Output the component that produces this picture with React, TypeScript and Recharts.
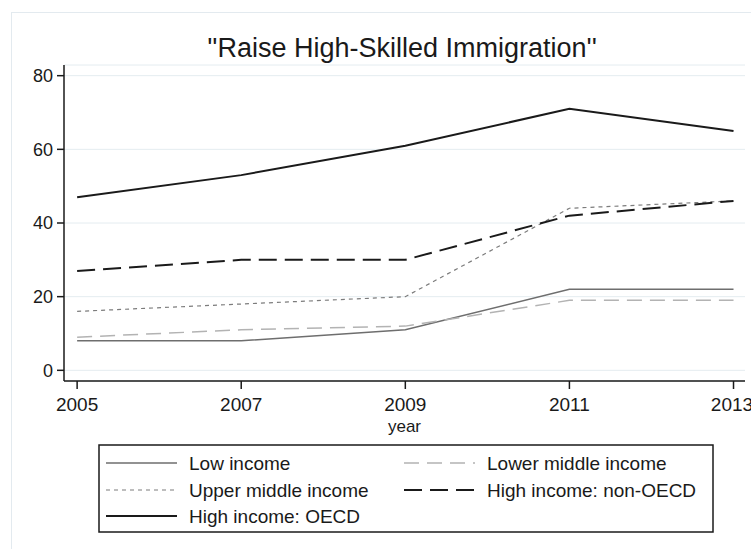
import { CartesianGrid, Line, LineChart, XAxis, YAxis } from "recharts";

const years = [2005, 2007, 2009, 2011, 2013];
const lowIncome = [8, 8, 11, 22, 22];
const lowerMiddle = [9, 11, 12, 19, 19];
const upperMiddle = [16, 18, 20, 44, 46];
const highNonOecd = [27, 30, 30, 42, 46];
const highOecd = [47, 53, 61, 71, 65];
const yTicks = [0, 20, 40, 60, 80];

const FONT = "'Liberation Sans', Arial, Helvetica, sans-serif";

const SERIES = [
  { key: "low", name: "Low income", values: lowIncome, color: "#6e6e6e", width: 1.5, dash: undefined },
  { key: "lowerMid", name: "Lower middle income", values: lowerMiddle, color: "#b3b3b3", width: 1.5, dash: "15 8" },
  { key: "upperMid", name: "Upper middle income", values: upperMiddle, color: "#7c7c7c", width: 1.2, dash: "4 4" },
  { key: "nonOecd", name: "High income: non-OECD", values: highNonOecd, color: "#1a1a1a", width: 2, dash: "18 8" },
  { key: "oecd", name: "High income: OECD", values: highOecd, color: "#1a1a1a", width: 2, dash: undefined },
];

const data = years.map((year, i) => {
  const row: Record<string, number> = { year };
  SERIES.forEach((s) => (row[s.key] = s.values[i]));
  return row;
});

function LegendBox() {
  const rowY = [19, 46, 72];
  const colX = [8, 306];
  return (
    <svg
      width={616}
      height={89}
      style={{ position: "absolute", left: 98, top: 444, overflow: "visible" }}
    >
      <rect x={1} y={1} width={614} height={87} fill="#fff" stroke="#1a1a1a" strokeWidth={1.5} />
      {SERIES.map((s, i) => {
        const x = colX[i % 2];
        const y = rowY[Math.floor(i / 2)];
        return (
          <g key={s.key}>
            <line
              x1={x}
              x2={x + 71}
              y1={y}
              y2={y}
              stroke={s.color}
              strokeWidth={s.width}
              strokeDasharray={s.dash}
            />
            <text x={x + 83} y={y + 7} fontFamily={FONT} fontSize={19} fill="#1a1a1a">
              {s.name}
            </text>
          </g>
        );
      })}
    </svg>
  );
}

export default function App() {
  return (
    <div
      style={{
        position: "absolute",
        left: 0,
        top: 0,
        width: 751,
        height: 549,
        overflow: "hidden",
        background: "#fff",
        fontFamily: FONT,
      }}
    >
      <div
        style={{
          position: "absolute",
          left: 11,
          top: 12,
          width: 800,
          height: 600,
          border: "1px solid #e3eaef",
        }}
      />
      <svg width={751} height={80} style={{ position: "absolute", left: 0, top: 0 }}>
        <text x={402} y={57} textAnchor="middle" fontFamily={FONT} fontSize={27} fill="#1a1a1a">
          ''Raise High-Skilled Immigration''
        </text>
      </svg>
      <div style={{ position: "absolute", left: 0, top: 0 }}>
        <LineChart
          width={751}
          height={549}
          data={data}
          margin={{ top: 65, right: 6, bottom: 118, left: 8 }}
        >
          <CartesianGrid horizontal vertical={false} stroke="#e4ecf0" strokeWidth={1} />
          <XAxis
            dataKey="year"
            type="number"
            domain={[2004.84, 2013.14]}
            ticks={years}
            allowDataOverflow
            height={50}
            axisLine={{ stroke: "#1a1a1a", strokeWidth: 1.5 }}
            tickLine={{ stroke: "#1a1a1a", strokeWidth: 1.5 }}
            tickSize={8}
            tickMargin={9}
            tick={{ fill: "#1a1a1a", fontSize: 19, fontFamily: FONT }}
            label={{ value: "year", position: "insideBottom", offset: -1, fill: "#1a1a1a", fontSize: 17, fontFamily: FONT }}
          />
          <YAxis
            type="number"
            domain={[-2.9, 82.9]}
            ticks={yTicks}
            allowDataOverflow
            width={56}
            axisLine={{ stroke: "#1a1a1a", strokeWidth: 1.5 }}
            tickLine={{ stroke: "#1a1a1a", strokeWidth: 1.5 }}
            tickSize={7}
            tickMargin={4}
            tick={{ fill: "#1a1a1a", fontSize: 18, fontFamily: FONT }}
          />
          {SERIES.map((s) => (
            <Line
              key={s.key}
              dataKey={s.key}
              name={s.name}
              type="linear"
              stroke={s.color}
              strokeWidth={s.width}
              strokeDasharray={s.dash}
              dot={false}
              activeDot={false}
              isAnimationActive={false}
            />
          ))}
        </LineChart>
      </div>
      <LegendBox />
    </div>
  );
}
